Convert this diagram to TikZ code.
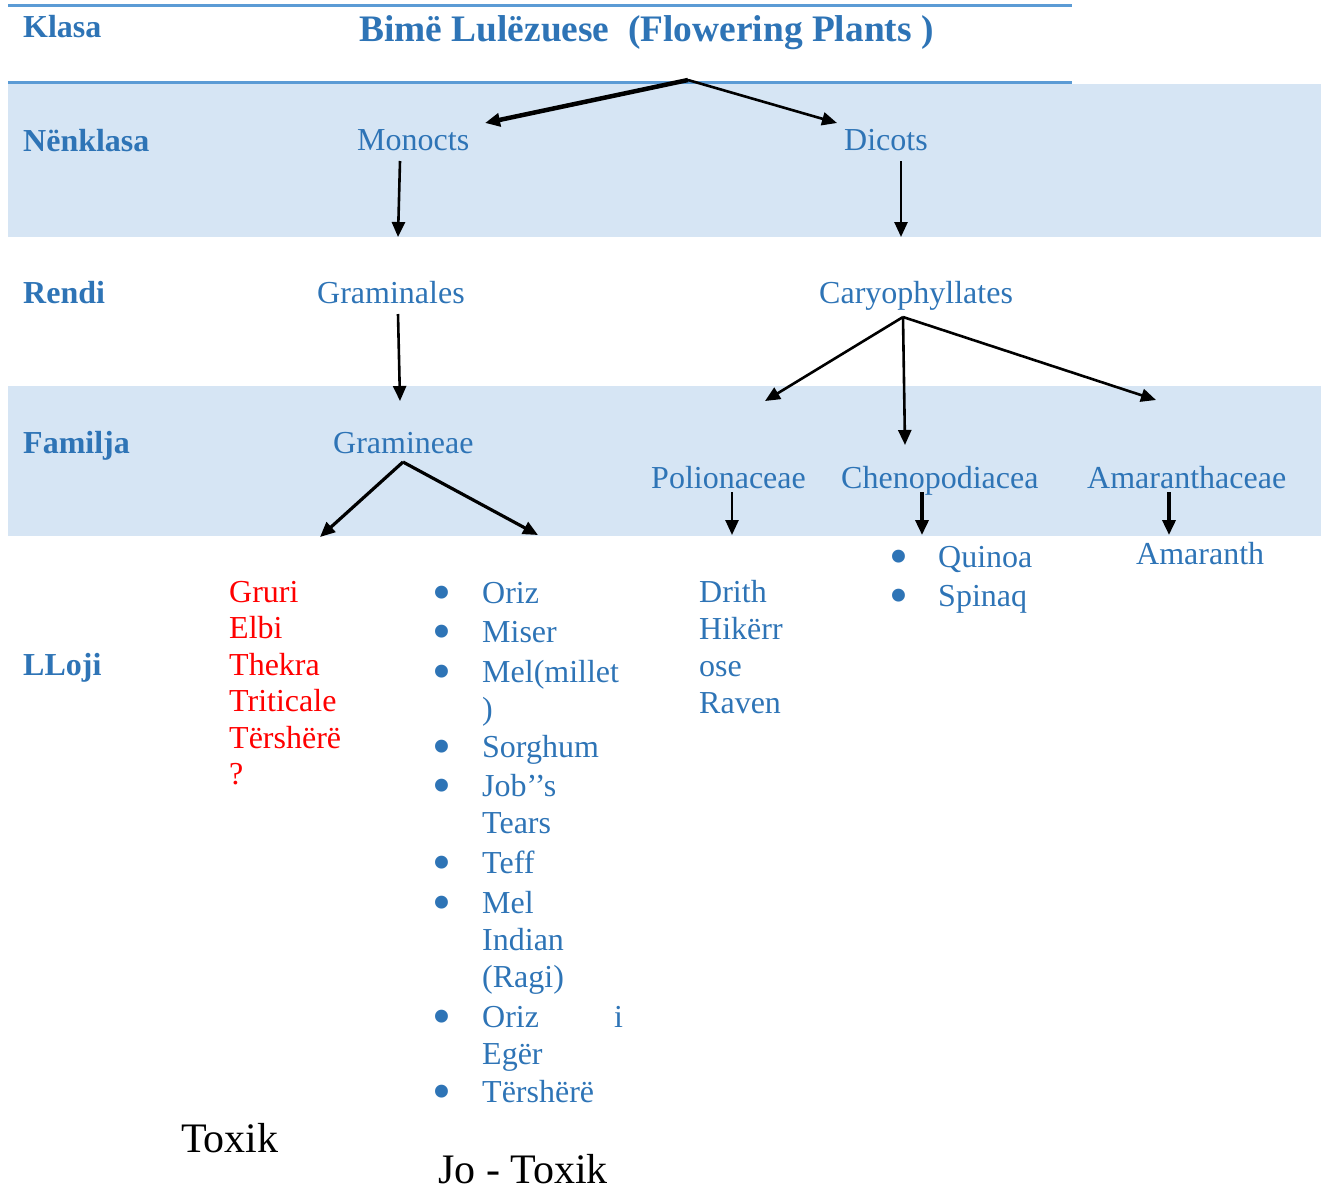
\documentclass[tikz,border=0pt]{standalone}
\usepackage{fontspec}
\setmainfont{Liberation Serif}
\usetikzlibrary{arrows.meta}
\definecolor{taxblue}{RGB}{46,116,182}
\definecolor{taxband}{RGB}{214,229,244}
\definecolor{taxline}{RGB}{91,155,213}
\newcommand{\taxdot}{\smash{\raisebox{-7pt}{\fontsize{54}{37}\selectfont •}}}
\tikzset{
    taxtext/.style={anchor=base west, inner sep=0pt, text=taxblue,
        font=\fontsize{32}{37}\selectfont},
    taxhead/.style={taxtext, font=\fontsize{32}{37}\selectfont\bfseries},
    taxarrow/.style={-{Triangle[length=15pt,width=13pt]}, line width=2.6pt},
    ruleline/.style={draw=taxline, line width=3pt}
}

\begin{document}
\begin{tikzpicture}[x=1pt, y=-1pt]
    \useasboundingbox (0,0) rectangle (1321,1189);

    % shaded rows and rules
    \fill[taxband] (8,84) rectangle (1321,237);
    \fill[taxband] (8,386) rectangle (1321,536);
    \draw[ruleline] (8,5) -- (1072,5);
    \draw[ruleline] (8,82.5) -- (1072,82.5);

    % row heads
    \node[taxhead] (klasa) at (23,37) {Klasa};
    \node[taxhead] (nenklasa) at (23,151) {Nënklasa};
    \node[taxhead] (rendi) at (23,303) {Rendi};
    \node[taxhead] (familja) at (23,453) {Familja};
    \node[taxhead] (lloji) at (23,675) {LLoji};

    \node[taxhead, font=\fontsize{37.4}{42}\selectfont\bfseries] (title)
        at (359,41) {Bimë Lulëzuese~ (Flowering Plants )};

    \node[taxtext] (monocts) at (357,150) {Monocts};
    \node[taxtext] (dicots) at (844,150) {Dicots};
    \node[taxtext] (graminales) at (317,303) {Graminales};
    \node[taxtext] (caryo) at (819,303) {Caryophyllates};
    \node[taxtext] (gramineae) at (333,453) {Gramineae};
    \node[taxtext] (polion) at (651,488) {Polionaceae};
    \node[taxtext] (cheno) at (841,488) {Chenopodiacea};
    \node[taxtext] (amaranthac) at (1087,488) {Amaranthaceae};
    \node[taxtext] (amaranth) at (1136,564) {Amaranth};

    % species lists
    \node[taxtext, text=red, font=\fontsize{32}{36.5}\selectfont] (toxiclist)
        at (229,602) {\begin{tabular}[t]{@{}l@{}}Gruri\\Elbi\\Thekra\\Triticale\\Tërshërë\\?\end{tabular}};
    \node[taxtext] (grainlist) at (432,603)
        {\begin{tabular}[t]{@{}p{50pt}@{}l@{}}
        \taxdot&Oriz\\[2pt]
        \taxdot&Miser\\[3pt]
        \taxdot&Mel(millet\\
         &)\\[1pt]
        \taxdot&Sorghum\\[2pt]
        \taxdot&Job’’s\\
         &Tears\\[3pt]
        \taxdot&Teff\\[3pt]
        \taxdot&Mel\\
         &Indian\\
         &(Ragi)\\[3pt]
        \taxdot&Oriz\hspace{75pt}i\\
         &Egër\\[1pt]
        \taxdot&Tërshërë
        \end{tabular}};
    \node[taxtext] (drithlist) at (699,602)
        {\begin{tabular}[t]{@{}l@{}}Drith\\Hikërr\\ose\\Raven\end{tabular}};
    \node[taxtext] (chenolist) at (889,567)
        {\begin{tabular}[t]{@{}p{49pt}@{}l@{}}\taxdot&Quinoa\\[2.5pt]\taxdot&Spinaq\end{tabular}};

    \node[taxtext, text=black, font=\fontsize{42}{48}\selectfont] (toxik)
        at (181,1152) {Toxik};
    \node[taxtext, text=black, font=\fontsize{42}{48}\selectfont] (jotoxik)
        at (438,1183) {Jo - Toxik};

    % arrow ends
    \coordinate (title-out) at (688,80);
    \coordinate (monocts-in) at (485,123);
    \coordinate (dicots-in) at (837,123);
    \coordinate (monocts-out) at (400,161);
    \coordinate (graminales-in) at (398,237);
    \coordinate (dicots-out) at (901,161);
    \coordinate (caryo-in) at (901,237);
    \coordinate (graminales-out) at (398,314);
    \coordinate (gramineae-in) at (400,401);
    \coordinate (caryo-out) at (903,317);
    \coordinate (polion-in) at (765,401);
    \coordinate (cheno-in) at (905,445);
    \coordinate (amaranthac-in) at (1156,400);
    \coordinate (gramineae-out) at (403,462);
    \coordinate (toxiclist-in) at (320,537);
    \coordinate (grainlist-in) at (538,535);
    \coordinate (polion-out) at (732,492);
    \coordinate (drithlist-in) at (732,535);
    \coordinate (cheno-out) at (922,492);
    \coordinate (chenolist-in) at (922,535);
    \coordinate (amaranthac-out) at (1169,492);
    \coordinate (amaranth-in) at (1169,535);

    \draw[taxarrow, line width=4.5pt] (title-out) -- (monocts-in);
    \draw[taxarrow] (title-out) -- (dicots-in);
    \draw[taxarrow] (monocts-out) -- (graminales-in);
    \draw[taxarrow] (dicots-out) -- (caryo-in);
    \draw[taxarrow] (graminales-out) -- (gramineae-in);
    \draw[taxarrow] (caryo-out) -- (polion-in);
    \draw[taxarrow] (caryo-out) -- (cheno-in);
    \draw[taxarrow] (caryo-out) -- (amaranthac-in);
    \draw[taxarrow, line width=3.2pt] (gramineae-out) -- (toxiclist-in);
    \draw[taxarrow, line width=3.2pt] (gramineae-out) -- (grainlist-in);
    \draw[taxarrow] (polion-out) -- (drithlist-in);
    \draw[taxarrow, line width=3.5pt] (cheno-out) -- (chenolist-in);
    \draw[taxarrow, line width=3.5pt] (amaranthac-out) -- (amaranth-in);
\end{tikzpicture}
\end{document}
